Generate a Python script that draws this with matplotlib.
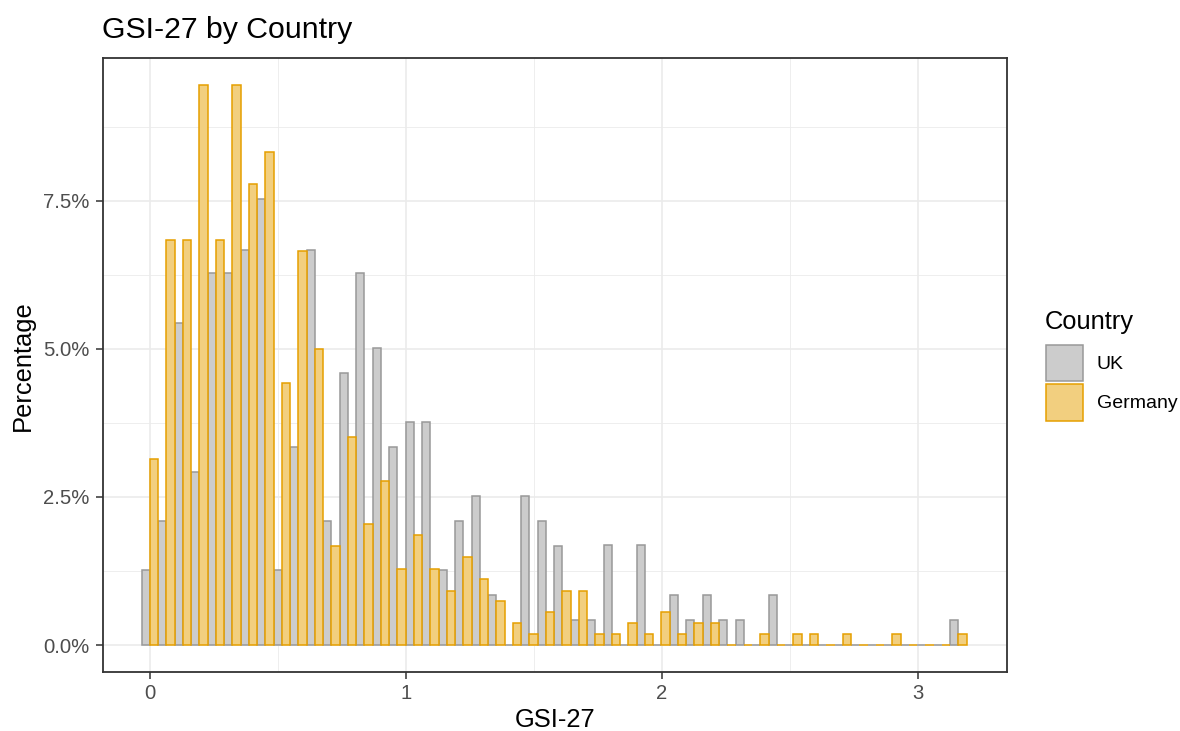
import numpy as np
import matplotlib
matplotlib.use("Agg")
import matplotlib.pyplot as plt
from matplotlib.patches import Patch
from matplotlib.ticker import FuncFormatter

plt.rcParams['font.family'] = ['Liberation Sans', 'DejaVu Sans']

# histogram: 50 bins, first centred on 0, last on the max score
n_bins = 50
gsi_max = 3.158
countries = ['UK', 'Germany']

uk_pct = [1.27, 2.10, 5.44, 2.92, 6.28, 6.28, 6.68, 7.53, 1.27, 3.34, 6.68, 2.10,
          4.60, 6.28, 5.02, 3.34, 3.77, 3.77, 1.26, 2.10, 2.51, 0.84,
          0.00, 2.51, 2.10, 1.68, 0.42, 0.42, 1.69, 0.00, 1.69, 0.00,
          0.84, 0.42, 0.84, 0.42, 0.42, 0.00, 0.84, 0.00,
          0.00, 0.00, 0.00, 0.00, 0.00, 0.00, 0.00, 0.00, 0.00, 0.42]
de_pct = [3.15, 6.84, 6.84, 9.46, 6.84, 9.46, 7.78, 8.33, 4.43, 6.66, 5.00, 1.67,
          3.51, 2.04, 2.77, 1.29, 1.86, 1.29, 0.92, 1.49, 1.11, 0.74,
          0.37, 0.19, 0.56, 0.92, 0.92, 0.19, 0.19, 0.38, 0.19, 0.56,
          0.19, 0.38, 0.38, 0.00, 0.00, 0.19, 0.00, 0.19,
          0.19, 0.00, 0.19, 0.00, 0.00, 0.19, 0.00, 0.00, 0.00, 0.19]

edge_cols = ['#999999', '#E69F00']
fill_cols = ['#CCCCCC', '#F2CF7F']

width = gsi_max / (n_bins - 1)
centers = np.arange(n_bins) * width

W, H = 1180, 731
fig = plt.figure(figsize=(W / 100, H / 100), dpi=100)
left, right, top, bottom = 102.5, 1006.7, 58.3, 672.3
ax = fig.add_axes([left / W, 1 - bottom / H, (right - left) / W, (bottom - top) / H])

# grid
for v in [0.5, 1.5, 2.5]:
    ax.axvline(v, color='#EBEBEB', lw=0.6, zorder=0)
for v in [1.25, 3.75, 6.25, 8.75]:
    ax.axhline(v, color='#EBEBEB', lw=0.6, zorder=0)
for v in [0, 1, 2, 3]:
    ax.axvline(v, color='#EBEBEB', lw=1.2, zorder=0)
for v in [0, 2.5, 5, 7.5]:
    ax.axhline(v, color='#EBEBEB', lw=1.2, zorder=0)

# dodged bars
ax.bar(centers - width / 4, uk_pct, width=width / 2, color=fill_cols[0],
       edgecolor=edge_cols[0], linewidth=1.1, zorder=2)
ax.bar(centers + width / 4, de_pct, width=width / 2, color=fill_cols[1],
       edgecolor=edge_cols[1], linewidth=1.1, zorder=3)

ax.set_xlim(-0.1855, 3.3465)
ax.set_ylim(-0.461, 9.91)
ax.set_xticks([0, 1, 2, 3])
ax.set_yticks([0, 2.5, 5, 7.5])
ax.yaxis.set_major_formatter(FuncFormatter(lambda v, p: f"{v:.1f}%"))
ax.tick_params(axis='both', colors='#333333', length=4.7, width=1.1,
               labelsize=14.6, labelcolor='#4D4D4D', pad=3.5)
ax.tick_params(axis='y', pad=4.5)
for s in ax.spines.values():
    s.set_color('#333333')
    s.set_linewidth(1.3)

ax.set_xlabel('GSI-27', fontsize=18.4, labelpad=4)
ax.set_ylabel('Percentage', fontsize=18.4, labelpad=6)
fig.text(left / W, 1 - 38 / H, 'GSI-27 by Country', fontsize=21.8, ha='left', va='baseline')

# legend
fig.text(1045 / W, 1 - 329 / H, 'Country', fontsize=18.4, ha='left', va='baseline')
handles = [Patch(facecolor=fill_cols[i], edgecolor=edge_cols[i], linewidth=1.1, label=countries[i])
           for i in range(2)]
leg = fig.legend(handles=handles, loc='upper left',
                 bbox_to_anchor=(1046 / W, 1 - 345 / H), frameon=False,
                 fontsize=14, handlelength=1.9, handleheight=2.5,
                 labelspacing=0.15, handletextpad=0.72, borderaxespad=0, borderpad=0)

fig.savefig('out.png', dpi=100)
